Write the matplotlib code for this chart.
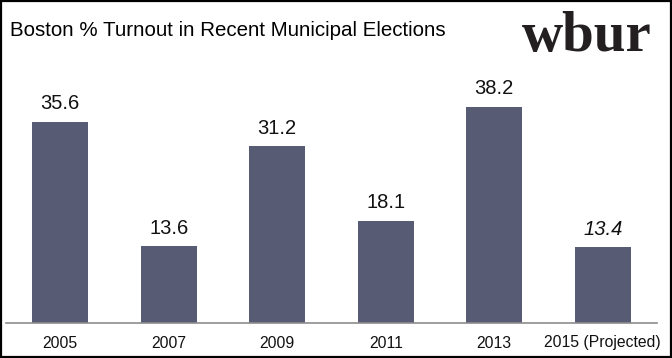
import matplotlib
matplotlib.use("Agg")
import matplotlib.pyplot as plt

years = ["2005", "2007", "2009", "2011", "2013", "2015 (Projected)"]
turnout = [35.6, 13.6, 31.2, 18.1, 38.2, 13.4]
projected = [False, False, False, False, False, True]

fig = plt.figure(figsize=(6.72, 3.58), dpi=100)
W, H = 672, 358
ax = fig.add_axes([6 / W, 35 / H, 651 / W, 263 / H])
bar_color = "#575c74"
x = list(range(len(years)))
ax.bar(x, turnout, width=0.52, color=bar_color)
ax.set_xlim(-0.5, 5.5)
ax.set_ylim(0, 263 / 5.66)
for xi, v, p in zip(x, turnout, projected):
    ax.text(xi, v + 1.5, f"{v:.1f}", ha="center", va="bottom", fontsize=14.5,
            family="Liberation Sans", style="italic" if p else "normal", color="#111111")
for s in ["top", "right", "left"]:
    ax.spines[s].set_visible(False)
ax.spines["bottom"].set_color("#8c8c8c")
ax.spines["bottom"].set_linewidth(1.2)
ax.set_yticks([])
ax.set_xticks(x)
ax.set_xticklabels(years, fontsize=11.3, family="Liberation Sans", color="#111111")
ax.tick_params(axis="x", length=0, pad=9)

fig.text(10 / W, 1 - 31 / H, "Boston % Turnout in Recent Municipal Elections",
         ha="left", va="center", fontsize=14.8, family="Liberation Sans", color="#000000")
fig.text(652 / W, 1 - 37 / H, "wbur", ha="right", va="center", fontsize=41,
         family="Liberation Serif", weight="bold", color="#231f20")

border = plt.Rectangle((1 / W, 1 / H), 1 - 2 / W, 1 - 2 / H, transform=fig.transFigure,
                       fill=False, edgecolor="black", linewidth=1.6)
fig.patches.append(border)

fig.savefig("out.png", dpi=100)
